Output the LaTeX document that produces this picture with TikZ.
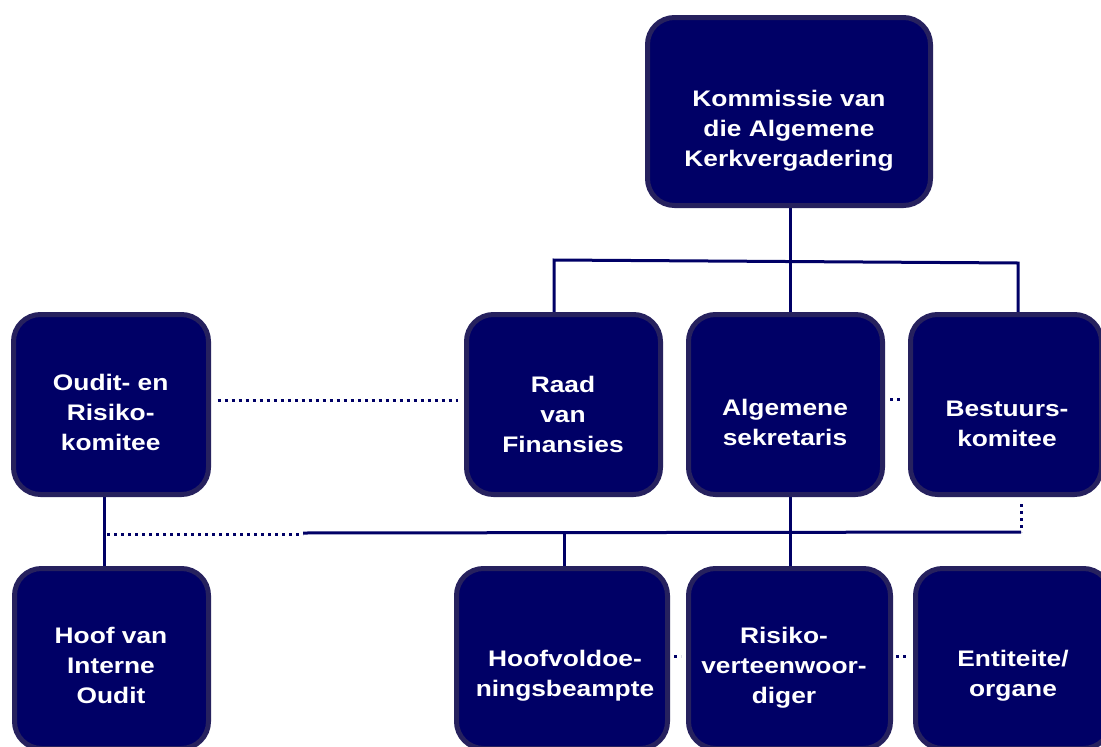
\documentclass[tikz,border=0pt]{standalone}
\usepackage{fontspec}
\newfontfamily\lblfont{Liberation Sans}[FakeStretch=1.17]
\definecolor{boxfill}{RGB}{0,0,102}
\definecolor{boxline}{RGB}{38,33,94}
\definecolor{conn}{RGB}{0,0,102}
\pgfdeclarelayer{bg}
\pgfsetlayers{bg,main}
\tikzset{
  orgbox/.style={draw=boxline, fill=boxfill, line width=5pt, rounded corners=27pt, inner sep=0pt},
  orgtext/.style={text=white, font=\lblfont\bfseries\fontsize{22.5}{30}\selectfont, align=center, inner sep=0pt},
  link/.style={draw=conn, line width=3pt},
  dotlink/.style={draw=conn, line width=3pt, line cap=butt, dash pattern=on 3pt off 4pt},
}
\begin{document}
\begin{tikzpicture}[x=1pt,y=-1pt]
\useasboundingbox (0,0) rectangle (1101,747);
\clip (0,0) rectangle (1101,747);

% boxes
\node[orgbox, minimum width=283pt, minimum height=188pt] (k) at (789,111.5) {};
\node[orgbox, minimum width=195pt, minimum height=180pt] (o) at (111,404.5) {};
\node[orgbox, minimum width=194pt, minimum height=180pt] (r) at (563.5,404.5) {};
\node[orgbox, minimum width=194pt, minimum height=180pt] (a) at (785.5,404.5) {};
\node[orgbox, minimum width=191pt, minimum height=180pt] (b) at (1006,404.5) {};
\node[orgbox, minimum width=194pt, minimum height=180pt] (h) at (111.5,658.5) {};
\node[orgbox, minimum width=211pt, minimum height=180pt] (v) at (562,658.5) {};
\node[orgbox, minimum width=202pt, minimum height=180pt] (ri) at (789.5,658.5) {};
\node[orgbox, minimum width=195pt, minimum height=180pt] (e) at (1013,658.5) {};

% texts
\node[orgtext] (kt) at (789,130.7) {Kommissie van\strut\\die Algemene\strut\\Kerkvergadering\strut};
\node[orgtext] (ot) at (110.7,414.8) {Oudit- en\strut\\Risiko-\strut\\komitee\strut};
\node[orgtext] (rt) at (563,416) {Raad\strut\\van\strut\\Finansies\strut};
\node[orgtext] (at) at (785,424) {Algemene\strut\\sekretaris\strut};
\node[orgtext] (bt) at (1007,425.5) {Bestuurs-\strut\\komitee\strut};
\node[orgtext] (ht) at (111,667.8) {Hoof van\strut\\Interne\strut\\Oudit\strut};
\node[orgtext] (vt) at (565,675.8) {Hoofvoldoe-\strut\\ningsbeampte\strut};
\node[orgtext] (rit) at (784,667.3) {Risiko-\strut\\verteenwoor-\strut\\diger\strut};
\node[orgtext] (et) at (1013,675.3) {Entiteite/\strut\\organe\strut};

% junction coordinates
\coordinate (jk) at (790,260);
\coordinate (jr) at (554,260);
\coordinate (jb) at (1018,263);
\coordinate (m0) at (104,533);
\coordinate (m0d) at (107,534);
\coordinate (m1) at (303,534);
\coordinate (m1s) at (303,533);
\coordinate (mv) at (564,533);
\coordinate (m2) at (1021,532);
\coordinate (m2t) at (1021,504);
\coordinate (yor) at (0,400);
\coordinate (yab) at (0,399);
\coordinate (ybot) at (0,656);

\begin{pgfonlayer}{bg}
  \fill[white] (0,0) rectangle (1101,747);
  \draw[link] (k.south -| jk) -- (jk |- a.north);
  \draw[link] (jr |- r.north) -- (jr) -- (jb) -- (jb |- b.north);
  \draw[link] (a.south -| jk) -- (jk |- ri.north);
  \draw[link] (o.south -| m0) -- (h.north -| m0);
  \draw[link] (m1s) -- (m2);
  \draw[link] (mv) -- (mv |- v.north);
  \draw[dotlink] (m0d) -- (m1);
  \draw[dotlink] (m2t) -- (m2);
\end{pgfonlayer}

% dotted side links
\draw[dotlink, shorten <=6.5pt, shorten >=6pt] (o.east |- yor) -- (r.west |- yor);
\draw[dotlink, shorten <=5pt, shorten >=5pt] (a.east |- yab) -- (b.west |- yab);
\draw[dotlink, shorten <=4pt, shorten >=5pt] (v.east |- ybot) -- (ri.west |- ybot);
\draw[dotlink, shorten <=3pt, shorten >=4pt] (ri.east |- ybot) -- (e.west |- ybot);
\end{tikzpicture}
\end{document}
